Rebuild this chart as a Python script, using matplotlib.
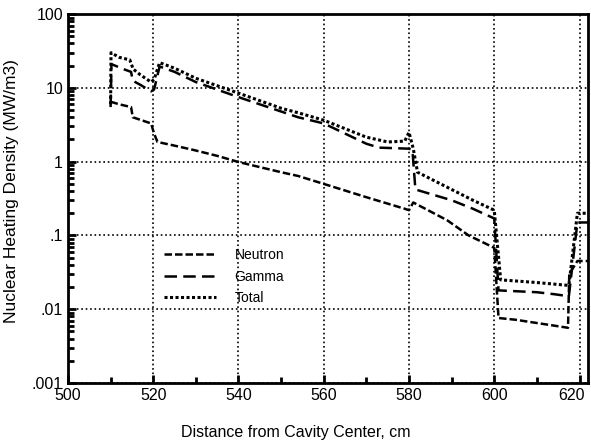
import numpy as np
import matplotlib
matplotlib.use("Agg")
import matplotlib.pyplot as plt
import matplotlib.transforms as mtransforms
from matplotlib.ticker import FixedLocator, FixedFormatter, LogLocator, NullFormatter

plt.rcParams["font.family"] = ["Liberation Sans", "DejaVu Sans"]

# heating density (MW/m3) vs distance from cavity center (cm)
total_x = [510, 510.1, 512, 514.5, 515.3, 517, 519.5, 520.2, 521.5, 525, 530, 540, 550, 554,
           560, 565, 570, 575, 579, 580, 581, 582, 590, 595, 600, 601.5, 610, 617.5, 619.5, 622]
total_y = [6.0, 30, 26, 24, 18, 15, 12, 13, 22, 18.5, 13.5, 8.5, 5.3, 4.6,
           3.65, 2.8, 2.15, 1.85, 1.9, 2.5, 1.5, 0.72, 0.42, 0.3, 0.22, 0.025, 0.023, 0.021, 0.2, 0.2]

gamma_x = [510, 510.2, 513, 514.8, 515.2, 517, 519.5, 520.2, 521.5, 525, 530, 540, 554,
           560, 570, 573, 580, 580.8, 581.5, 590, 595, 600, 601, 610, 614, 617.5, 619.5, 622]
gamma_y = [5.5, 21, 18, 16.5, 12.5, 11, 9, 9.5, 19.5, 16.5, 12, 7.5, 4.0,
           3.3, 1.75, 1.55, 1.5, 1.45, 0.42, 0.3, 0.23, 0.17, 0.018, 0.017, 0.016, 0.015, 0.15, 0.15]

neutron_x = [510, 512, 514.8, 515.2, 519.5, 520.2, 521, 525, 529.5, 535, 540, 550, 554,
             560, 570, 579, 580, 581, 589, 594, 600, 601, 605, 610, 614, 617.3, 617.6, 619.5, 622]
neutron_y = [6.5, 6.0, 5.5, 4.0, 3.3, 2.4, 1.85, 1.65, 1.44, 1.2, 0.99, 0.72, 0.64,
             0.5, 0.33, 0.23, 0.22, 0.28, 0.16, 0.10, 0.068, 0.0076, 0.0072, 0.0065, 0.006,
             0.0056, 0.03, 0.045, 0.045]

xticks = [500, 520, 540, 560, 580, 600, 620]
yticks = [0.001, 0.01, 0.1, 1, 10, 100]
ytick_labels = [".001", ".01", ".1", "1", "10", "100"]

fig = plt.figure(figsize=(5.91, 4.42), dpi=100)
ax = fig.add_axes([0.115, 0.1335, 0.88, 0.8345])

ax.plot(neutron_x, neutron_y, color="black", lw=1.8, ls=(0, (3, 1.2)), label="Neutron")
ax.plot(gamma_x, gamma_y, color="black", lw=1.8, ls=(0, (5, 2.5)), label="Gamma")
ax.plot(total_x, total_y, color="black", lw=2.2, ls=(0, (1, 0.8)), label="Total")

ax.set_yscale("log")
ax.set_xlim(500, 622)
ax.set_ylim(0.001, 100)
ax.xaxis.set_major_locator(FixedLocator(xticks))
ax.xaxis.set_minor_locator(FixedLocator(np.arange(510, 621, 20)))
ax.yaxis.set_major_locator(FixedLocator(yticks))
ax.yaxis.set_major_formatter(FixedFormatter(ytick_labels))
ax.yaxis.set_minor_locator(LogLocator(base=10, subs=np.arange(2, 10)))
ax.yaxis.set_minor_formatter(NullFormatter())

ax.tick_params(which="both", direction="in", width=2, labelsize=11.5)
ax.tick_params(which="major", length=6)
ax.tick_params(which="minor", length=4)
ax.tick_params(axis="x", which="both", top=False)
for s in ax.spines.values():
    s.set_linewidth(2)

# last x label sits against the figure edge; nudge it left a little
last = ax.get_xticklabels()[-1]
last.set_transform(last.get_transform() + mtransforms.ScaledTranslation(-6 / 72, 0, fig.dpi_scale_trans))

ax.grid(True, which="major", color="black", ls=":", lw=1.2)

ax.set_xlabel("Distance from Cavity Center, cm", fontsize=11.5)
ax.xaxis.set_label_coords(0.438, -0.115)
ax.set_ylabel("Nuclear Heating Density (MW/m3)", fontsize=12.5)
ax.yaxis.set_label_coords(-0.095, 0.52)

ax.legend(loc="upper left", bbox_to_anchor=(0.16, 0.40), frameon=False, fontsize=10,
          handlelength=3.8, handletextpad=1.3, labelspacing=0.55)

fig.savefig("out.png", dpi=100)
